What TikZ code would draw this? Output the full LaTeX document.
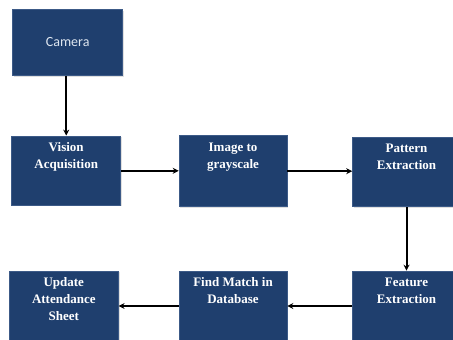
\documentclass[tikz,border=0pt]{standalone}
\usepackage{fontspec}
\setmainfont{Liberation Serif}
\newfontfamily\tnrfont{Liberation Serif}[BoldFont={Liberation Serif Bold}]
\newfontfamily\camfont{Carlito}
\usetikzlibrary{arrows.meta,shadows}
\definecolor{boxblue}{RGB}{31,63,110}
\definecolor{boxedge}{RGB}{60,90,135}
\definecolor{camtext}{RGB}{222,230,240}
\tikzset{
  blk/.style={rectangle, fill=boxblue, draw=boxedge, line width=0.6pt, inner sep=0pt,
    drop shadow={shadow xshift=1.2pt, shadow yshift=-1.2pt, opacity=0.25}},
  toptext/.style={font=\tnrfont\bfseries\fontsize{13}{17}\selectfont, text=white, align=center, inner sep=0pt},
  conn/.style={draw=black, line width=2pt, -{Stealth[length=6pt,width=6pt]}}
}
\newcommand{\blkbox}[6]{% name, x, y, w, h, text
  \node[blk, minimum width=#4pt, minimum height=#5pt] (#1) at (#2pt,#3pt) {};
  \node[toptext, anchor=north] (#1t) at ([yshift=-7pt]#1.north) {#6};
}
\begin{document}
\begin{tikzpicture}
\useasboundingbox[fill=white] (0pt,0pt) rectangle (453pt,-340pt);
\node[blk, minimum width=110pt, minimum height=66pt, font=\camfont\fontsize{14}{16}\selectfont, text=camtext] (cam) at (67.7pt,-42.3pt) {Camera};
\blkbox{vis}{66.2}{-170.4}{109}{69}{Vision\\Acquisition}
\blkbox{img}{233}{-171.2}{108}{71}{Image to\\grayscale}
\blkbox{pat}{406.5}{-172}{108}{69.5}{Pattern\\Extraction}
\blkbox{fea}{406.5}{-306}{108}{70}{Feature\\Extraction}
\blkbox{fin}{233}{-306}{108}{70}{Find Match in\\Database}
\blkbox{upd}{63.8}{-306}{109}{70}{Update\\Attendance\\Sheet}
\draw[conn] (vis.north |- cam.south) -- (vis.north);
\draw[conn] ([yshift=-0.4pt]vis.east) -- ([yshift=-0.4pt]vis.east -| img.west);
\draw[conn] (img.east) -- (img.east -| pat.west);
\draw[conn] (pat.south) -- (fea.north);
\draw[conn] (fea.west) -- (fin.east);
\draw[conn] (fin.west) -- (upd.east);
\end{tikzpicture}
\end{document}
